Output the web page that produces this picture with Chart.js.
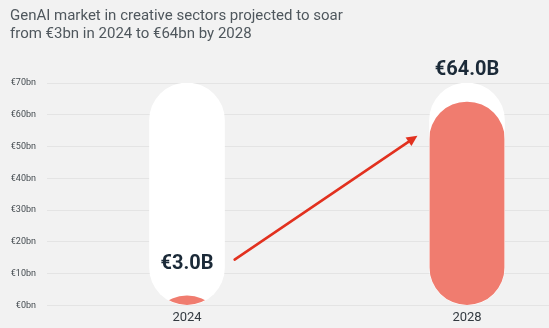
<!DOCTYPE html>
<html>
<head>
<meta charset="utf-8">
<script src="https://cdn.jsdelivr.net/npm/chart.js@4.4.1/dist/chart.umd.min.js"></script>
<style>
  html, body { margin: 0; padding: 0; background: #f2f2f2; overflow: hidden; }
  #wrap { width: 549px; height: 328px; overflow: hidden; }
  canvas { display: block; }
</style>
</head>
<body>
<div id="wrap"><canvas id="c" width="607" height="331"></canvas></div>
<script>
// Market size in € billions
const years = ['2024', '2028'];
const marketValues = [3.0, 64.0];
const capsuleTop = [70, 70];
const valueLabels = ['€3.0B', '€64.0B'];
const titleLines = [
  'GenAI market in creative sectors projected to soar',
  'from €3bn in 2024 to €64bn by 2028'
];
// Growth arrow endpoints in data units: [category position, € billions]
const arrowFrom = [0.17, 14.4];
const arrowTo = [0.823, 53.4];

const SALMON = '#f07c6f';
const INK = '#1b2a38';

// Clip the filled bars to the white capsule behind them
const capsuleClip = {
  id: 'capsuleClip',
  beforeDatasetDraw(chart, args) {
    if (args.index !== 0) return;
    const capsules = chart.getDatasetMeta(1).data;
    const ctx = chart.ctx;
    ctx.save();
    ctx.beginPath();
    capsules.forEach(el => {
      const p = el.getProps(['x', 'y', 'base', 'width'], true);
      const w = p.width, h = p.base - p.y;
      ctx.roundRect(p.x - w / 2, p.y, w, h, w / 2);
    });
    ctx.clip();
  },
  afterDatasetDraw(chart, args) {
    if (args.index !== 0) return;
    chart.ctx.restore();
  }
};

// Value captions and the growth arrow
const annotations = {
  id: 'annotations',
  afterDatasetsDraw(chart) {
    const ctx = chart.ctx;
    const xs = chart.scales.x, ys = chart.scales.y;
    const bars = chart.getDatasetMeta(0).data;

    ctx.save();
    ctx.font = 'bold 20px Roboto';
    ctx.fillStyle = INK;
    ctx.textAlign = 'center';
    ctx.textBaseline = 'middle';
    bars.forEach((el, i) => {
      ctx.fillText(valueLabels[i], el.x, ys.getPixelForValue(marketValues[i]) - 32);
    });

    const x1 = xs.getPixelForValue(arrowFrom[0]), y1 = ys.getPixelForValue(arrowFrom[1]);
    const x2 = xs.getPixelForValue(arrowTo[0]), y2 = ys.getPixelForValue(arrowTo[1]);
    const ang = Math.atan2(y2 - y1, x2 - x1);
    const head = 12, spread = 0.45;
    ctx.strokeStyle = '#e2311f';
    ctx.fillStyle = '#e2311f';
    ctx.lineWidth = 2.5;
    ctx.lineCap = 'round';
    ctx.beginPath();
    ctx.moveTo(x1, y1);
    ctx.lineTo(x2 - Math.cos(ang) * head * 0.8, y2 - Math.sin(ang) * head * 0.8);
    ctx.stroke();
    ctx.beginPath();
    ctx.moveTo(x2, y2);
    ctx.lineTo(x2 - head * Math.cos(ang - spread), y2 - head * Math.sin(ang - spread));
    ctx.lineTo(x2 - head * Math.cos(ang + spread), y2 - head * Math.sin(ang + spread));
    ctx.closePath();
    ctx.fill();
    ctx.restore();
  }
};

new Chart(document.getElementById('c'), {
  type: 'bar',
  data: {
    labels: years,
    datasets: [
      {
        label: 'Market size',
        data: marketValues,
        base: -40,
        backgroundColor: SALMON,
        borderRadius: 200,
        borderSkipped: false,
        grouped: false,
        order: 1,
        barThickness: 75
      },
      {
        label: 'Capsule',
        data: capsuleTop,
        backgroundColor: '#ffffff',
        borderRadius: 200,
        borderSkipped: false,
        grouped: false,
        order: 2,
        barThickness: 75
      }
    ]
  },
  options: {
    responsive: false,
    animation: false,
    layout: { padding: { left: 10, right: 0, top: 0, bottom: 0 } },
    plugins: {
      legend: { display: false },
      tooltip: { enabled: false },
      title: {
        display: true,
        text: titleLines,
        align: 'start',
        color: '#4f575d',
        font: { family: 'Roboto', size: 15, weight: '400', lineHeight: 1.2 },
        padding: { top: 7, bottom: 40 }
      }
    },
    scales: {
      x: {
        grid: { display: false, drawTicks: false },
        border: { display: false },
        ticks: { color: '#333a40', padding: 5, font: { family: 'Roboto', size: 13 } }
      },
      y: {
        min: 0,
        max: 70,
        afterFit(scale) { scale.width = 37; },
        grid: { color: '#e4e4e4', drawTicks: false },
        border: { display: false },
        ticks: {
          stepSize: 10,
          padding: 11,
          color: '#444b50',
          font: { family: 'Roboto', size: 9 },
          callback: v => '€' + v + 'bn'
        }
      }
    }
  },
  plugins: [capsuleClip, annotations]
});
</script>
</body>
</html>
